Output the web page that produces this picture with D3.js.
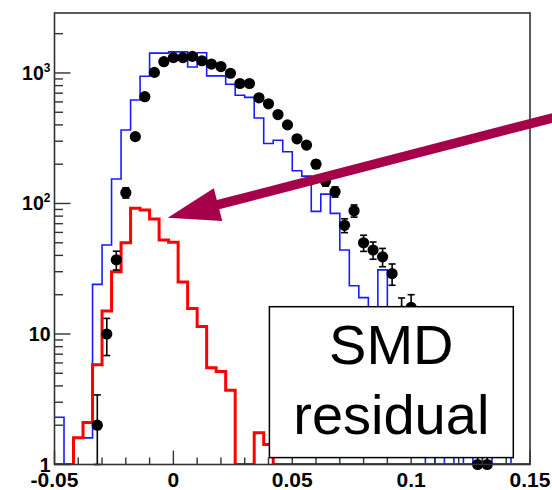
<!DOCTYPE html>
<html>
<head>
<meta charset="utf-8">
<script src="https://cdn.jsdelivr.net/npm/d3@7"></script>
<style>
body { margin: 0; background: #fff; }
svg { display: block; }
</style>
</head>
<body>
<div></div>
<script>
// canvas size
var w = 552
var h = 490

// histogram binning on the x axis
var binStart = -0.05
var binWidth = 0.004

// blue histogram (one value per bin, 0 = empty)
var blueVals = [2.3, 0, 1.6, 1.6, 24, 48, 154, 366, 620, 944,
    1420, 1420, 1450, 1450, 1110, 1430, 950, 950, 820, 675,
    650, 452, 288, 305, 249, 178, 162, 87, 118, 84,
    44, 23.4, 19, 9, 31, 6, 5, 3, 2, 0,
    2, 0, 1.6, 0, 1.5, 0, 1.5, 1.5, 0, 0]

// red histogram (SMD residual)
var redVals = [0, 0, 1.6, 2.1, 5.8, 15, 30, 50, 92, 89,
    76, 52.6, 50.5, 25, 15.7, 11.4, 5.5, 5.15, 3.7, 0,
    0, 1.75, 1.42, 0, 0, 0, 0, 0, 0, 0,
    0, 0, 0, 0, 0, 0, 0, 0, 0, 0,
    0, 0, 0, 0, 0, 0, 0, 0, 0, 0]

// black points, counts per bin (0 = no point)
var dataVals = [0, 0, 0, 0, 2, 10, 37, 121, 325, 658,
    1010, 1220, 1310, 1310, 1340, 1240, 1170, 1120, 995, 830,
    830, 645, 580, 480, 400, 313, 280, 200, 148, 123,
    68, 88, 50, 44, 39, 29, 15, 16, 10, 7,
    5, 4, 3, 0, 1, 1, 0, 0, 0, 0]

var xTicks = [-0.05, 0, 0.05, 0.1, 0.15]
var xTickLabels = ['-0.05', '0', '0.05', '0.1', '0.15']
var yTicks = [1, 10, 100, 1000]
var yTickBase = ['1', '10', '10', '10']
var yTickExp = ['', '', '2', '3']
var boxLines = ['SMD', 'residual']

// plot frame (pixels)
var frame = {left: 54.5, right: 530, top: 13, bottom: 464.5}
var font = "'Liberation Sans', Arial, Helvetica, sans-serif"

var svg = d3.select('div')
    .append('svg')
    .attr('width', w)
    .attr('height', h)

var x = d3.scaleLinear().domain([-0.05, 0.15]).range([frame.left, frame.right])
var y = d3.scaleLog().domain([1, 2880]).range([frame.bottom, frame.top])

// values at or below 1 sit on the bottom of the log axis
function yv(v) {
    return v > 1 ? y(v) : frame.bottom
}

function binLo(i) { return binStart + i * binWidth }
function binMid(i) { return binStart + (i + 0.5) * binWidth }

svg.append('clipPath')
    .attr('id', 'plotclip')
    .append('rect')
    .attr('x', frame.left)
    .attr('y', frame.top)
    .attr('width', frame.right - frame.left)
    .attr('height', frame.bottom - frame.top)

//step outline of a histogram
function stepPath(vals) {
    var p = d3.path()
    vals.forEach(function(v, i) {
        var x0 = x(binLo(i))
        var x1 = x(binLo(i + 1))
        if (i == 0) p.moveTo(x0, yv(v))
        else p.lineTo(x0, yv(v))
        p.lineTo(x1, yv(v))
    })
    return p.toString()
}

var plot = svg.append('g').attr('clip-path', 'url(#plotclip)')

plot.append('path')
    .attr('d', stepPath(blueVals))
    .attr('fill', 'none')
    .attr('stroke', '#1a1aff')
    .attr('stroke-width', 1.6)

plot.append('path')
    .attr('d', stepPath(redVals))
    .attr('fill', 'none')
    .attr('stroke', '#ff0000')
    .attr('stroke-width', 3)

// data points with sqrt(N) error bars
var pts = dataVals.map(function(v, i) { return {i: i, v: v} })
    .filter(function(d) { return d.v > 0 })

var bars = svg.append('g')
    .attr('stroke', '#000')
    .attr('stroke-width', 1.6)

bars.selectAll('line.err')
    .data(pts)
    .enter()
    .append('line')
    .attr('class', 'err')
    .attr('x1', (d) => x(binMid(d.i)))
    .attr('x2', (d) => x(binMid(d.i)))
    .attr('y1', (d) => yv(d.v + Math.sqrt(d.v)))
    .attr('y2', (d) => yv(d.v - Math.sqrt(d.v)))

bars.selectAll('line.capHi')
    .data(pts)
    .enter()
    .append('line')
    .attr('class', 'capHi')
    .attr('x1', (d) => x(binMid(d.i)) - 3.5)
    .attr('x2', (d) => x(binMid(d.i)) + 3.5)
    .attr('y1', (d) => yv(d.v + Math.sqrt(d.v)))
    .attr('y2', (d) => yv(d.v + Math.sqrt(d.v)))

bars.selectAll('line.capLo')
    .data(pts)
    .enter()
    .append('line')
    .attr('class', 'capLo')
    .attr('x1', (d) => x(binMid(d.i)) - 3.5)
    .attr('x2', (d) => x(binMid(d.i)) + 3.5)
    .attr('y1', (d) => yv(d.v - Math.sqrt(d.v)))
    .attr('y2', (d) => yv(d.v - Math.sqrt(d.v)))

svg.selectAll('circle.pt')
    .data(pts)
    .enter()
    .append('circle')
    .attr('class', 'pt')
    .attr('cx', (d) => x(binMid(d.i)))
    .attr('cy', (d) => yv(d.v))
    .attr('r', 5.6)
    .attr('fill', '#000')

// frame
svg.append('rect')
    .attr('x', frame.left)
    .attr('y', frame.top)
    .attr('width', frame.right - frame.left)
    .attr('height', frame.bottom - frame.top)
    .attr('fill', 'none')
    .attr('stroke', '#333')
    .attr('stroke-width', 1.6)

// y ticks: log minor ticks + decades
var ax = svg.append('g').attr('stroke', '#333').attr('stroke-width', 1.4)
ax.selectAll('line.yt')
    .data(y.ticks())
    .enter()
    .append('line')
    .attr('x1', frame.left)
    .attr('x2', (d) => frame.left + (yTicks.indexOf(d) >= 0 ? 16 : 8.5))
    .attr('y1', (d) => y(d))
    .attr('y2', (d) => y(d))

// x ticks every 0.01, long ones on the labels
ax.selectAll('line.xt')
    .data(x.ticks(20))
    .enter()
    .append('line')
    .attr('x1', (d) => x(d))
    .attr('x2', (d) => x(d))
    .attr('y1', frame.bottom)
    .attr('y2', (d) => frame.bottom - (Math.abs(Math.round(d * 20) - d * 20) < 1e-6 ? 14 : 7))

// tick labels
svg.selectAll('text.xl')
    .data(xTicks)
    .enter()
    .append('text')
    .attr('x', (d) => x(d))
    .attr('y', 486.5)
    .attr('text-anchor', 'middle')
    .style('font-family', font)
    .style('font-weight', 'bold')
    .style('font-size', '21px')
    .text((d, i) => xTickLabels[i])

var yl = svg.selectAll('text.yl')
    .data(yTicks)
    .enter()
    .append('text')
    .attr('x', frame.left - 4)
    .attr('y', (d) => y(d) + 7)
    .attr('text-anchor', 'end')
    .style('font-family', font)
    .style('font-weight', 'bold')
    .style('font-size', '19.5px')

yl.append('tspan').text((d, i) => yTickBase[i])
yl.append('tspan')
    .attr('dy', -8)
    .style('font-size', '12px')
    .text((d, i) => yTickExp[i])

// arrow annotation
var tip = [167.7, 217.7]
var tail = [556, 117]
var ang = Math.atan2(tail[1] - tip[1], tail[0] - tip[0])
var ux = Math.cos(ang), uy = Math.sin(ang)
var headLen = 52, headHalf = 17
var base = [tip[0] + headLen * ux, tip[1] + headLen * uy]
var arrowColor = '#a6004a'

svg.append('line')
    .attr('x1', base[0] - 2 * ux)
    .attr('y1', base[1] - 2 * uy)
    .attr('x2', tail[0])
    .attr('y2', tail[1])
    .attr('stroke', arrowColor)
    .attr('stroke-width', 9.5)

svg.append('path')
    .attr('d', 'M' + tip + 'L' + [base[0] - headHalf * uy, base[1] + headHalf * ux] +
        'L' + [base[0] + headHalf * uy, base[1] - headHalf * ux] + 'Z')
    .attr('fill', arrowColor)

// label box
svg.append('rect')
    .attr('x', 269.4)
    .attr('y', 306.7)
    .attr('width', 243.9)
    .attr('height', 150.9)
    .attr('fill', '#fff')
    .attr('stroke', '#000')
    .attr('stroke-width', 1.5)

svg.selectAll('text.box')
    .data(boxLines)
    .enter()
    .append('text')
    .attr('x', 391.3)
    .attr('y', (d, i) => 364 + i * 70)
    .attr('text-anchor', 'middle')
    .style('font-family', font)
    .style('font-size', '56px')
    .text((d) => d)
</script>
</body>
</html>
